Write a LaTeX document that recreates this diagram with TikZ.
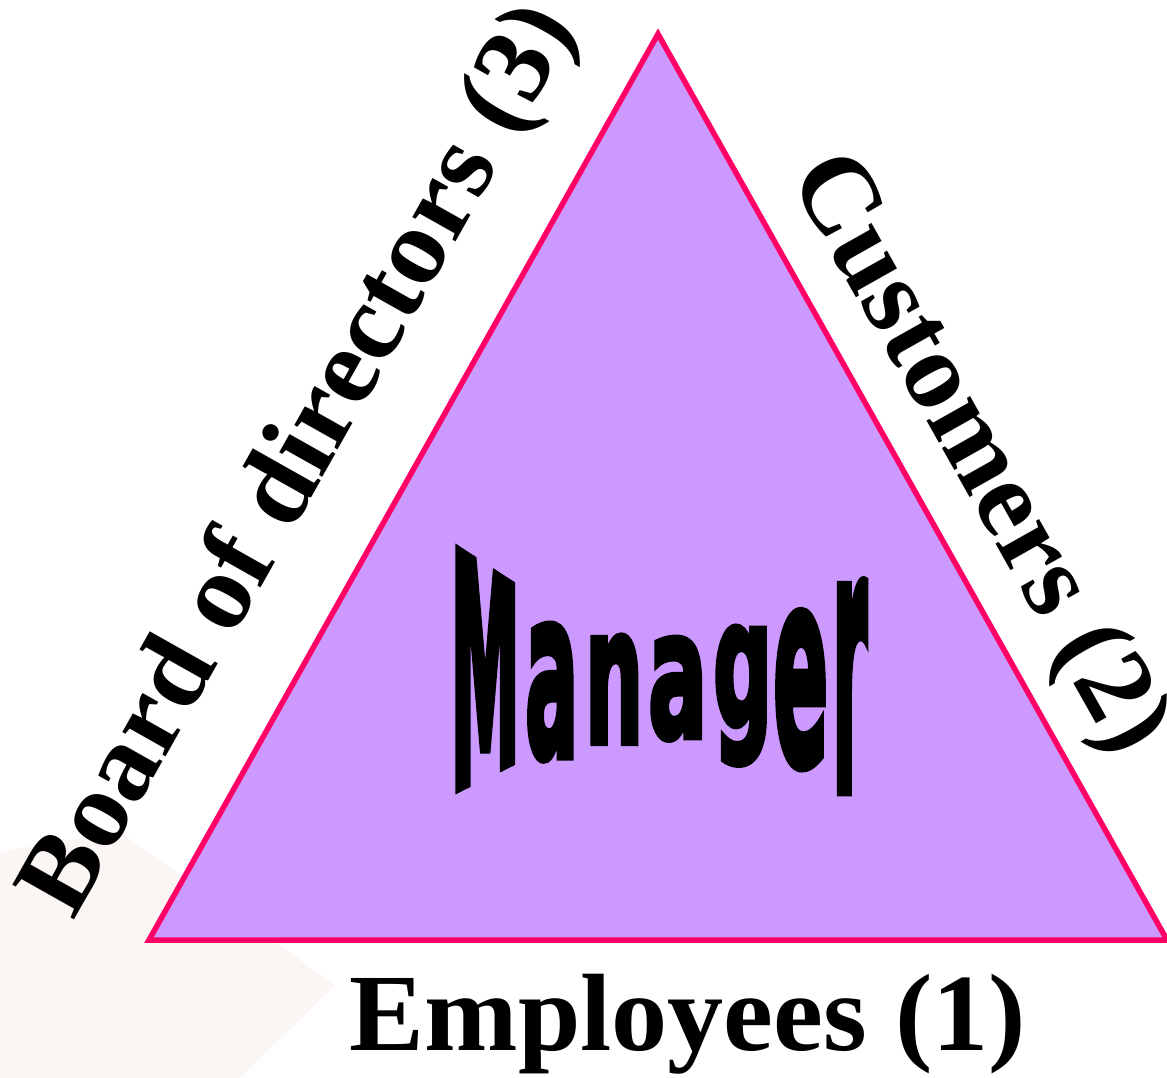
\documentclass[tikz,border=0pt]{standalone}
\usepackage{fontspec}
\usepackage{graphicx}
\setmainfont{Liberation Serif}
\newfontfamily\mgrfont[FakeBold=3.5]{DejaVu Sans Condensed Bold}
\definecolor{trifill}{HTML}{CC99FF}
\definecolor{triedge}{HTML}{FF0066}
\definecolor{bgtint}{HTML}{FBF5F3}
\begin{document}
\begin{tikzpicture}[x=1pt,y=-1pt,
  sidelabel/.style={inner sep=0pt, anchor=base, font=\fontsize{108}{120}\selectfont\bfseries},
  mgrletter/.style={inner sep=0pt, anchor=south west, font=\mgrfont},
  triangleshape/.style={draw=triedge, fill=trifill, line width=5.5pt, line join=miter}]
\useasboundingbox (0,0) rectangle (1167,1078);
% faint background tint
\fill[bgtint] (0,852) -- (120,832) -- (335,985) -- (240,1078) -- (0,1078) -- cycle;
% triangle
\coordinate (apex) at (658,34);
\coordinate (bl) at (149,940);
\coordinate (br) at (1167,940);
\draw[triangleshape] (apex) -- (bl) -- (br) -- cycle;
% side labels
\node[sidelabel, rotate=60.6] (board) at (325,474) {\scalebox{1.03}[1]{Board of directors (3)}};
\node[sidelabel, rotate=-60.6, font=\fontsize{109}{120}\selectfont\bfseries] (cust) at (953,468) {\scalebox{1.02}[1]{Customers (2)}};
\node[sidelabel, font=\fontsize{110}{120}\selectfont\bfseries] (emp) at (688,1050) {\scalebox{1.02}[1]{Employees (1)}};
% Manager (word-art style)
\begin{scope}
  \clip (450,540) -- (519,585) -- (519,763) -- (450,797) -- cycle;
  \node[mgrletter] (m1) at (450,797) {\resizebox*{70pt}{257pt}{M}};
\end{scope}
\node[mgrletter] (m2) at (525,760) {\resizebox*{53pt}{135pt}{a}};
\node[mgrletter] (m3) at (585,743) {\resizebox*{58pt}{107pt}{n}};
\node[mgrletter] (m4) at (648,740) {\resizebox*{59pt}{102pt}{a}};
\node[mgrletter] (m5) at (713,765) {\resizebox*{59pt}{138pt}{g}};
\node[mgrletter] (m6) at (773,768) {\resizebox*{55pt}{156pt}{e}};
\node[mgrletter] (m7) at (832,790) {\resizebox*{35pt}{207pt}{r}};
\end{tikzpicture}
\end{document}
